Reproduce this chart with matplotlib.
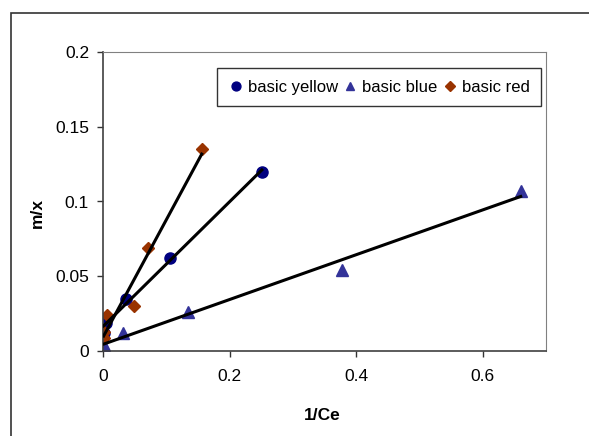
import numpy as np
import matplotlib.pyplot as plt
from matplotlib.patches import Rectangle

plt.rcParams['font.family'] = ['Liberation Sans', 'DejaVu Sans']

# data
yellow_x = [0.001, 0.004, 0.036, 0.106, 0.251]
yellow_y = [0.012, 0.019, 0.035, 0.062, 0.120]
blue_x = [0.002, 0.032, 0.134, 0.378, 0.660]
blue_y = [0.004, 0.012, 0.026, 0.054, 0.107]
red_x = [0.001, 0.002, 0.007, 0.049, 0.071, 0.156]
red_y = [0.009, 0.013, 0.024, 0.030, 0.069, 0.135]

fig = plt.figure(figsize=(5.89, 4.36), dpi=100)
ax = fig.add_axes([103/589, 1-351/436, (546-103)/589, (351-52)/436])

# outer chart border
fig.patches.append(Rectangle((11/589, -0.1), 1.2, 1-13/436+0.1, transform=fig.transFigure,
                             fill=False, edgecolor='#333333', lw=1.2))

series = [(yellow_x, yellow_y, 'o', '#000080', 'basic yellow', 8),
          (blue_x, blue_y, '^', '#333399', 'basic blue', 8),
          (red_x, red_y, 'D', '#993300', 'basic red', 6)]

for xs, ys, m, c, lab, ms in series:
    ax.plot(xs, ys, m, color=c, markersize=ms, linestyle='none', label=lab, zorder=2)
# linear trend lines on top of the markers
for xs, ys, m, c, lab, ms in series:
    k, b = np.polyfit(xs, ys, 1)
    xx = np.array([min(xs), max(xs)])
    ax.plot(xx, k*xx + b, color='black', lw=2.2, zorder=3)

ax.set_xlim(0, 0.7)
ax.set_ylim(0, 0.2)
ax.set_xticks([0, 0.2, 0.4, 0.6])
ax.set_xticklabels(['0', '0.2', '0.4', '0.6'])
ax.set_yticks([0, 0.05, 0.1, 0.15, 0.2])
ax.set_yticklabels(['0', '0.05', '0.1', '0.15', '0.2'])
ax.tick_params(direction='out', length=4, labelsize=12.5, width=1, color='#333333')
ax.tick_params(axis='x', pad=9)
ax.tick_params(axis='y', pad=6)
for s in ['top', 'right']:
    ax.spines[s].set_color('#808080')
for s in ['left', 'bottom']:
    ax.spines[s].set_color('#404040')
    ax.spines[s].set_linewidth(1.2)

fig.text(322/589, 1-415/436, '1/Ce', ha='center', va='center', fontsize=12.5, fontweight='bold')
fig.text(37/589, 1-213/436, 'm/x', ha='center', va='center', fontsize=12.5, fontweight='bold', rotation=90)

leg = ax.legend(loc='upper left', bbox_to_anchor=(217/589, 1-68/436), bbox_transform=fig.transFigure,
                ncol=3, fontsize=12, frameon=True, fancybox=False, handletextpad=0.25,
                columnspacing=0.3, borderpad=0.7, handlelength=0.9, borderaxespad=0,
                markerscale=0.8)
leg.get_frame().set_edgecolor('black')
leg.get_frame().set_linewidth(1)

fig.savefig('out.png', dpi=100)
